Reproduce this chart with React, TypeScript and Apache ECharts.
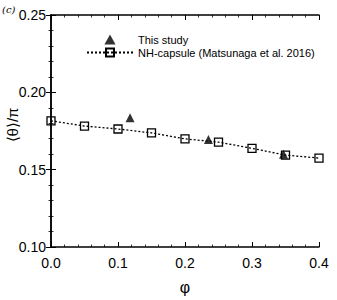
import React, { useEffect, useRef } from "react";
import * as echarts from "echarts";

const phiRef = [0, 0.05, 0.1, 0.15, 0.2, 0.25, 0.3, 0.35, 0.4];
const thetaRef = [0.1816, 0.1782, 0.1763, 0.1738, 0.1699, 0.1678, 0.1638, 0.1594, 0.1575];
const phiStudy = [0.118, 0.235, 0.347];
const thetaStudy = [0.1835, 0.1695, 0.1600];
const xTicks = [0.0, 0.1, 0.2, 0.3, 0.4];
const yTicks = [0.1, 0.15, 0.2, 0.25];

const FONT = "Liberation Sans";

export default function App() {
  const ref = useRef<HTMLDivElement>(null);
  useEffect(() => {
    const chart = echarts.init(ref.current!, undefined, { renderer: "svg" });
    const axisCommon = {
      axisLine: { show: true, lineStyle: { color: "#000", width: 1.5 } },
      axisTick: { show: true, inside: true, length: 5, lineStyle: { color: "#000", width: 1 } },
      minorTick: { show: true, splitNumber: 5, length: 2.5, lineStyle: { color: "#000", width: 0.8 } },
      splitLine: { show: false },
    };
    chart.setOption({
      animation: false,
      backgroundColor: "#fff",
      grid: { left: 51, right: 18, top: 15, bottom: 46, containLabel: false },
      xAxis: [
        {
          type: "value",
          min: xTicks[0],
          max: xTicks[xTicks.length - 1],
          interval: 0.1,
          position: "bottom",
          ...axisCommon,
          axisLabel: {
            margin: 9,
            color: "#000",
            fontFamily: FONT,
            fontSize: 14,
            formatter: (v: number) => v.toFixed(1),
          },
          name: "φ",
          nameLocation: "middle",
          nameGap: 32,
          nameTextStyle: { color: "#000", fontFamily: FONT, fontSize: 16 },
        },
        {
          type: "value",
          min: xTicks[0],
          max: xTicks[xTicks.length - 1],
          interval: 0.1,
          position: "top",
          ...axisCommon,
          axisLabel: { show: false },
        },
      ],
      yAxis: [
        {
          type: "value",
          min: yTicks[0],
          max: yTicks[yTicks.length - 1],
          interval: 0.05,
          position: "left",
          ...axisCommon,
          axisLabel: {
            margin: 5,
            color: "#000",
            fontFamily: FONT,
            fontSize: 14,
            formatter: (v: number) => v.toFixed(2),
          },
        },
        {
          type: "value",
          min: yTicks[0],
          max: yTicks[yTicks.length - 1],
          interval: 0.05,
          position: "right",
          ...axisCommon,
          axisLabel: { show: false },
        },
      ],
      legend: {
        orient: "vertical",
        left: 81,
        top: 29,
        itemWidth: 46,
        itemHeight: 10,
        itemGap: 2,
        symbolKeepAspect: true,
        textStyle: { color: "#000", fontFamily: FONT, fontSize: 11 },
        data: [
          { name: "This study", icon: "path://M5,0L10,9L0,9Z" },
          { name: "NH-capsule (Matsunaga et al. 2016)" },
        ],
      },
      graphic: [
        {
          type: "text",
          left: 2,
          top: 4,
          style: { text: "(c)", font: "italic 10px 'DejaVu Serif'", fill: "#000" },
        },
        {
          type: "text",
          x: 12,
          y: 125,
          rotation: Math.PI / 2,
          style: {
            text: "⟨θ⟩/π",
            font: "15px 'Liberation Sans'",
            fill: "#000",
            align: "center",
            verticalAlign: "middle",
          },
        },
      ],
      series: [
        {
          name: "NH-capsule (Matsunaga et al. 2016)",
          type: "line",
          data: phiRef.map((x, i) => [x, thetaRef[i]]),
          symbol: "rect",
          symbolSize: 8,
          lineStyle: { color: "#000", width: 1.3, type: [2, 2] },
          itemStyle: { color: "rgba(255,255,255,0)", borderColor: "#000", borderWidth: 1.3 },
          z: 2,
        },
        {
          name: "This study",
          type: "scatter",
          data: phiStudy.map((x, i) => [x, thetaStudy[i]]),
          symbol: "triangle",
          symbolSize: 9,
          itemStyle: { color: "#000" },
          z: 3,
        },
      ],
    });
    return () => chart.dispose();
  }, []);
  return <div ref={ref} style={{ width: 337, height: 300, position: "absolute", left: 0, top: 0 }} />;
}
